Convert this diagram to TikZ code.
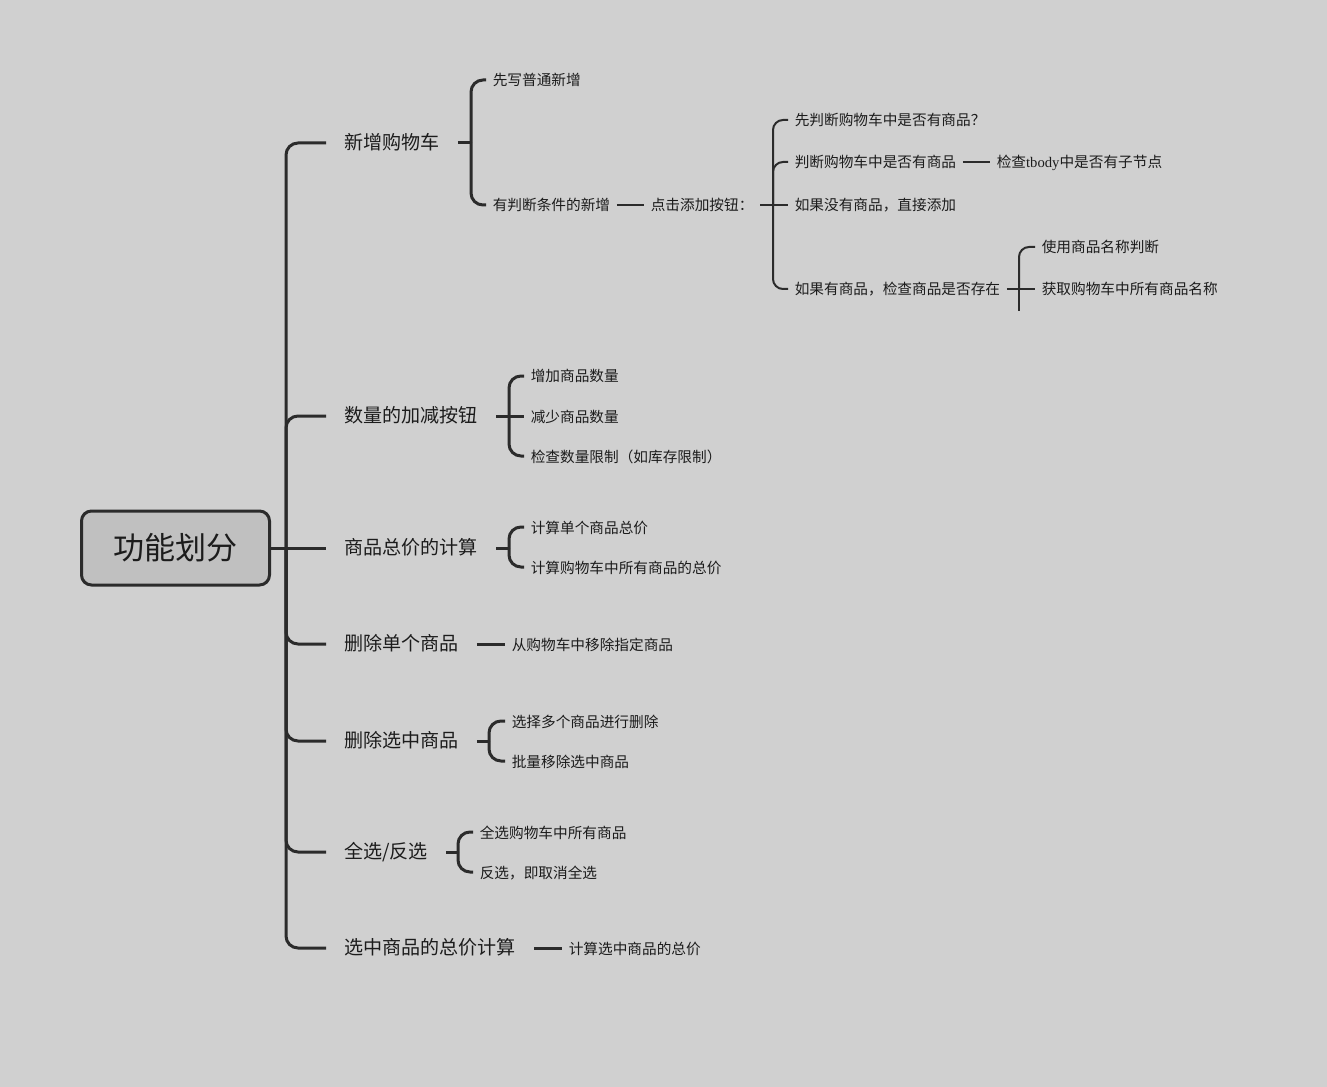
\documentclass[tikz,border=0pt]{standalone}
\usepackage{fontspec}
\setmainfont{Noto Sans CJK SC}
\newfontfamily\latinserif{Liberation Serif}
\definecolor{bgc}{HTML}{D0D0D0}
\definecolor{rootc}{HTML}{C0C0C0}
\definecolor{lnc}{HTML}{2B2B2B}
\definecolor{txc}{HTML}{1C1C1C}
\begin{document}
\begin{tikzpicture}[x=0.75pt,y=-0.75pt,
  rootbox/.style={draw=lnc, line width=2.25pt, fill=rootc, rounded corners=7.5pt,
    minimum width=141pt, minimum height=55.5pt, inner sep=0pt, text=txc,
    font=\fontsize{23.3}{26}\selectfont},
  lvone/.style={anchor=west, inner ysep=0pt, inner xsep=13.5pt, text=txc,
    font=\fontsize{14.3}{16}\selectfont, text height=0.98em, text depth=0.02em},
  lvtwo/.style={anchor=west, inner ysep=0pt, inner xsep=4.9pt, text=txc,
    font=\fontsize{11}{13}\selectfont, text height=0.95em, text depth=0.05em},
  thickln/.style={draw=lnc, line width=2.25pt, rounded corners=9pt},
  thinln/.style={draw=lnc, line width=1.5pt, rounded corners=7.5pt}
]
\fill[bgc] (0,0) rectangle (1327,1087);
\useasboundingbox (0,0) rectangle (1327,1087);

% root
\node[rootbox] (root) at (175.5,548) {功能划分};

% level 1
\node[lvone] (n1) at (326,143) {新增购物车};
\node[lvone] (n2) at (326,416) {数量的加减按钮};
\node[lvone] (n3) at (326,548) {商品总价的计算};
\node[lvone] (n4) at (326,644) {删除单个商品};
\node[lvone] (n5) at (326,741) {删除选中商品};
\node[lvone] (n6) at (326,852) {全选/反选};
\node[lvone] (n7) at (326,948) {选中商品的总价计算};

\coordinate (sp) at (286,548);
\draw[thickln] (root.east) -- (n3.west);
\draw[thickln] (n1.west) -| (sp);
\draw[thickln] (n2.west) -| (sp);
\draw[thickln] (n4.west) -| (sp);
\draw[thickln] (n5.west) -| (sp);
\draw[thickln] (n6.west) -| (sp);
\draw[thickln] (n7.west) -| (sp);

% branch 1
\node[lvtwo] (a1) at (486,80) {先写普通新增};
\node[lvtwo] (a2) at (486,205) {有判断条件的新增};
\coordinate (b1) at (471,143);
\draw[thickln] (n1.east) -- (b1);
\draw[thickln] (a1.west) -| (b1);
\draw[thickln] (a2.west) -| (b1);

\node[lvtwo] (k) at (644,205) {点击添加按钮：};
\draw[thinln] (a2.east) -- (k.west);
\coordinate (bk) at (773,205);
\node[lvtwo] (k1) at (788,120) {先判断购物车中是否有商品？};
\node[lvtwo] (k2) at (788,162) {判断购物车中是否有商品};
\node[lvtwo] (k3) at (788,205) {如果没有商品，直接添加};
\node[lvtwo] (k4) at (788,289) {如果有商品，检查商品是否存在};
\draw[thinln] (k.east) -- (k3.west);
\draw[thinln] (k1.west) -| (bk);
\draw[thinln] (k2.west) -| (bk);
\draw[thinln] (k4.west) -| (bk);

\node[lvtwo] (k2a) at (990,162) {检查{\latinserif tbody}中是否有子节点};
\draw[thinln] (k2.east) -- (k2a.west);

\coordinate (bm) at (1019,289);
\coordinate (bmend) at (1019,311);
\node[lvtwo] (m1) at (1035,247) {使用商品名称判断};
\node[lvtwo] (m2) at (1035,289) {获取购物车中所有商品名称};
\draw[thinln] (k4.east) -- (m2.west);
\draw[thinln] (m1.west) -| (bm);
\draw[thinln] (bm) -- (bmend);

% branch 2
\coordinate (b2) at (509,416);
\node[lvtwo] (q1) at (524,376) {增加商品数量};
\node[lvtwo] (q2) at (524,416) {减少商品数量};
\node[lvtwo] (q3) at (524,456) {检查数量限制（如库存限制）};
\draw[thickln] (n2.east) -- (q2.west);
\draw[thickln] (q1.west) -| (b2);
\draw[thickln] (q3.west) -| (b2);

% branch 3
\coordinate (b3) at (509,548);
\node[lvtwo] (p1) at (524,527) {计算单个商品总价};
\node[lvtwo] (p2) at (524,567) {计算购物车中所有商品的总价};
\draw[thickln] (n3.east) -- (b3);
\draw[thickln] (p1.west) -| (b3);
\draw[thickln] (p2.west) -| (b3);

% branch 4
\node[lvtwo] (d1) at (505,644) {从购物车中移除指定商品};
\draw[thickln] (n4.east) -- (d1.west);

% branch 5
\coordinate (b5) at (489,741);
\node[lvtwo] (s1) at (505,721) {选择多个商品进行删除};
\node[lvtwo] (s2) at (505,761) {批量移除选中商品};
\draw[thickln] (n5.east) -- (b5);
\draw[thickln] (s1.west) -| (b5);
\draw[thickln] (s2.west) -| (b5);

% branch 6
\coordinate (b6) at (458,852);
\node[lvtwo] (f1) at (473,832) {全选购物车中所有商品};
\node[lvtwo] (f2) at (473,872) {反选，即取消全选};
\draw[thickln] (n6.east) -- (b6);
\draw[thickln] (f1.west) -| (b6);
\draw[thickln] (f2.west) -| (b6);

% branch 7
\node[lvtwo] (g1) at (562,948) {计算选中商品的总价};
\draw[thickln] (n7.east) -- (g1.west);
\end{tikzpicture}
\end{document}
